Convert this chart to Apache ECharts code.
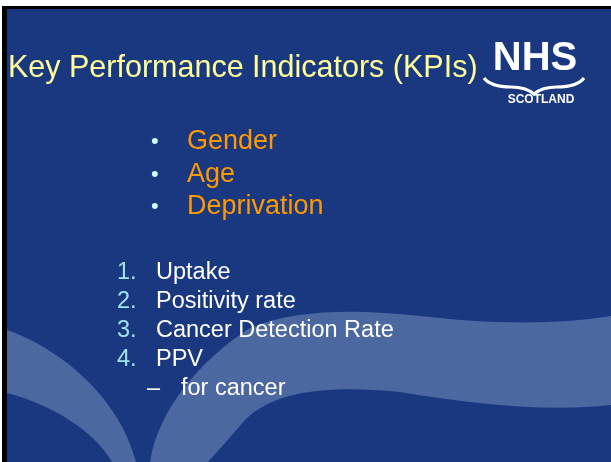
<!DOCTYPE html>
<html>
<head>
<meta charset="utf-8">
<script src="https://cdn.jsdelivr.net/npm/echarts@6/dist/echarts.min.js"></script>
<style>
  html, body { margin: 0; padding: 0; background: #fff; }
  #chart { width: 611px; height: 462px; }
</style>
</head>
<body>
<div id="chart"></div>
<script>
const titleText = 'Key Performance Indicators (KPIs)';
const bulletItems = ['Gender', 'Age', 'Deprivation'];
const kpiItems = ['Uptake', 'Positivity rate', 'Cancer Detection Rate', 'PPV'];
const subItems = ['for cancer'];
const logoWord = 'NHS';
const logoSub = 'SCOTLAND';

const chart = echarts.init(document.getElementById('chart'), null, { renderer: 'canvas' });

const FONT = '"Liberation Sans", Arial, sans-serif';
const BG = '#1a3880';
const BAND = '#4b68a0';

function buildSlide() {
  const els = [];

  // slide background + frame
  els.push({ type: 'rect', shape: { x: 0, y: 0, width: 611, height: 462 }, style: { fill: '#fff' } });
  els.push({ type: 'rect', shape: { x: 2, y: 6, width: 609, height: 456 }, style: { fill: '#000' } });
  els.push({ type: 'rect', shape: { x: 7, y: 9, width: 604, height: 453 }, style: { fill: BG } });

  // swooshes
  els.push({
    type: 'path',
    shape: { pathData: 'M7,330 C60,348 120,398 136,462 L112,462 C94,430 50,404 7,393 Z' },
    style: { fill: BAND }
  });
  els.push({
    type: 'path',
    shape: { pathData: 'M150,462 C158,410 200,360 250,328 C300,308 360,310 420,316 C480,323 550,326 611,316 L611,405 C550,412 480,405 400,392 C330,385 275,390 245,420 C228,440 214,455 208,462 Z' },
    style: { fill: BAND }
  });

  // title
  els.push({
    type: 'text', x: 8, y: 69,
    style: { text: titleText, fill: '#ffff99', font: '30.5px ' + FONT, verticalAlign: 'middle' }
  });

  // NHS logo
  els.push({
    type: 'text', x: 535, y: 59,
    style: { text: logoWord, fill: '#fff', font: 'bold 40px ' + FONT, align: 'center', verticalAlign: 'middle' }
  });
  els.push({
    type: 'path',
    shape: { pathData: 'M484,78 Q491,87 511,87 Q526,87 534,94 Q542,87 557,87 Q577,87 584,78' },
    style: { stroke: '#fff', lineWidth: 3.2, fill: 'none' }
  });
  els.push({
    type: 'text', x: 541, y: 100,
    style: { text: logoSub, fill: '#fff', font: 'bold 12px ' + FONT, align: 'center', verticalAlign: 'middle' }
  });

  // bullets
  bulletItems.forEach((t, i) => {
    const y = 142 + i * 32.5;
    els.push({ type: 'text', x: 151, y: y, style: { text: '\u2022', fill: '#ccffff', font: '22px ' + FONT, verticalAlign: 'middle' } });
    els.push({ type: 'text', x: 187, y: y, style: { text: t, fill: '#ff9900', font: '27px ' + FONT, verticalAlign: 'middle' } });
  });

  // numbered list
  kpiItems.forEach((t, i) => {
    const y = 273 + i * 29;
    els.push({ type: 'text', x: 117, y: y, style: { text: (i + 1) + '.', fill: '#a0e4ec', font: '23.5px ' + FONT, verticalAlign: 'middle' } });
    els.push({ type: 'text', x: 156, y: y, style: { text: t, fill: '#fff', font: '23.5px ' + FONT, verticalAlign: 'middle' } });
  });
  subItems.forEach((t, i) => {
    const y = 389 + i * 29;
    els.push({ type: 'text', x: 147, y: y, style: { text: '\u2013', fill: '#fff', font: '23.5px ' + FONT, verticalAlign: 'middle' } });
    els.push({ type: 'text', x: 181, y: y, style: { text: t, fill: '#fff', font: '23.5px ' + FONT, verticalAlign: 'middle' } });
  });

  return els;
}

chart.setOption({
  animation: false,
  series: [{
    type: 'custom',
    coordinateSystem: 'none',
    silent: true,
    data: [0],
    renderItem: function () {
      return { type: 'group', children: buildSlide() };
    }
  }]
});
</script>
</body>
</html>
